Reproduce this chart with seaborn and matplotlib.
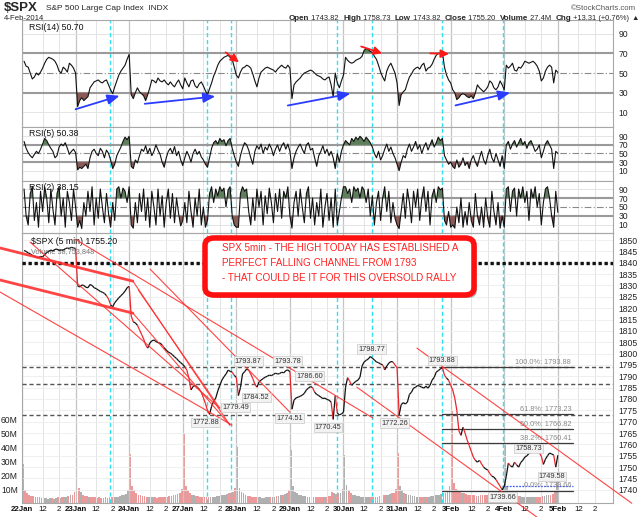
import numpy as np
import pandas as pd
import matplotlib
matplotlib.use("Agg")
import matplotlib.pyplot as plt
import seaborn as sns
from matplotlib.collections import LineCollection
from matplotlib.patches import FancyBboxPatch

sns.set_theme(style="white")
plt.rcParams['font.family'] = ['Liberation Sans', 'DejaVu Sans']

# ---- data (15-minute samples, 26 per session) ----
day_labels = ["22Jan", "23Jan", "24Jan", "27Jan", "28Jan", "29Jan",
              "30Jan", "31Jan", "3Feb", "4Feb", "5Feb"]

close_22jan = [1845.4, 1845.0, 1844.3, 1844.0, 1843.2, 1843.0, 1842.4, 1842.2, 1842.8, 1842.6, 1843.5, 1844.5, 1845.0,
               1845.6, 1845.2, 1845.9, 1846.0, 1845.4, 1845.7, 1845.5, 1846.2, 1846.5, 1846.3, 1846.8, 1846.5, 1846.3]
close_23jan = [1829.8, 1829.3, 1830.2, 1830.0, 1829.2, 1829.0, 1830.4, 1830.0, 1829.0, 1828.6, 1828.0, 1827.4, 1827.0,
               1826.5, 1825.5, 1824.0, 1821.5, 1820.6, 1822.4, 1823.5, 1824.6, 1825.5, 1826.4, 1827.5, 1829.0, 1829.6]
close_24jan = [1816.5, 1814.0, 1813.5, 1812.5, 1810.5, 1808.5, 1806.5, 1803.8, 1802.4, 1804.6, 1805.6, 1806.0, 1805.3,
               1804.8, 1804.6, 1803.8, 1802.6, 1801.5, 1800.7, 1800.2, 1799.5, 1798.6, 1797.8, 1796.8, 1796.0, 1795.2]
close_27jan = [1794.2, 1792.7, 1789.0, 1784.0, 1785.5, 1786.0, 1785.2, 1784.4, 1783.0, 1780.6, 1778.0, 1775.0, 1773.2,
               1776.8, 1779.0, 1780.4, 1783.5, 1786.0, 1788.3, 1789.8, 1791.0, 1792.7, 1792.2, 1791.8, 1790.4, 1789.5]
close_28jan = [1781.5, 1785.0, 1791.0, 1792.0, 1793.2, 1792.7, 1791.0, 1789.0, 1786.5, 1785.2, 1787.5, 1788.3, 1789.0,
               1789.6, 1790.0, 1790.5, 1790.3, 1790.8, 1791.4, 1791.0, 1791.2, 1791.8, 1791.5, 1792.5, 1792.8, 1792.0]
close_29jan = [1775.5, 1779.5, 1780.5, 1780.8, 1781.2, 1781.7, 1782.5, 1784.0, 1784.8, 1785.5, 1785.0, 1783.0, 1782.0,
               1781.5, 1780.8, 1780.2, 1780.4, 1779.8, 1779.5, 1778.6, 1771.0, 1781.5, 1773.8, 1773.0, 1773.4, 1774.2]
close_30jan = [1785.2, 1789.4, 1787.8, 1786.0, 1787.0, 1787.8, 1788.3, 1789.6, 1794.5, 1796.3, 1797.0, 1797.6, 1798.7,
               1798.0, 1797.2, 1796.3, 1796.0, 1795.4, 1795.0, 1792.8, 1794.5, 1795.8, 1796.5, 1796.3, 1795.0, 1793.8]
close_31jan = [1773.0, 1777.5, 1778.4, 1777.8, 1778.6, 1782.0, 1783.0, 1784.8, 1785.2, 1786.0, 1785.6, 1785.2, 1784.8,
               1785.6, 1784.8, 1786.0, 1788.3, 1789.5, 1791.8, 1792.5, 1793.2, 1793.9, 1790.5, 1789.2, 1788.3, 1786.0]
close_03feb = [1784.0, 1780.4, 1775.0, 1766.0, 1764.0, 1767.6, 1765.0, 1762.0, 1759.5, 1757.0, 1754.4, 1753.0, 1752.2,
               1753.0, 1751.4, 1750.0, 1749.2, 1748.7, 1747.2, 1746.0, 1745.6, 1744.5, 1743.0, 1741.6, 1740.0, 1741.5]
close_04feb = [1746.0, 1751.8, 1750.6, 1750.0, 1752.2, 1751.0, 1750.0, 1752.0, 1753.0, 1754.4, 1755.0, 1756.0, 1756.5,
               1757.2, 1758.0, 1756.8, 1756.4, 1754.8, 1751.2, 1753.5, 1755.0, 1756.2, 1755.8, 1755.3, 1750.0, 1755.2]

volume_m = [28, 9, 7, 6, 5, 5, 4.5, 4, 4, 3.5, 3.5, 3.5, 3, 3.5, 3.5, 3, 3.5, 4, 3.5, 4, 4.5, 4.5, 5, 5.5, 6, 8,
            36, 11, 8, 6, 5, 5, 4.5, 4.5, 4, 4, 3.5, 4, 3.5, 3.5, 4, 3.5, 4, 4, 4.5, 4, 4.5, 5, 5.5, 6, 6.5, 9,
            35, 12, 9, 7, 6, 5.5, 5, 5, 4.5, 4.5, 4, 4, 4, 3.5, 4, 4, 4.5, 4, 4.5, 5, 5, 5.5, 6, 6.5, 7, 10,
            49, 12, 9, 7, 6, 5.5, 5, 5, 4.5, 4, 4, 4.5, 4, 4, 4.5, 4.5, 5, 5, 5.5, 5.5, 6, 6.5, 7, 7.5, 8, 11,
            40, 11, 8, 7, 6, 5, 5, 4.5, 4.5, 4, 4, 4, 3.5, 3.5, 4, 4, 4, 4.5, 4.5, 5, 5, 5.5, 6, 6.5, 7, 9,
            38, 12, 8, 7, 6, 5.5, 5, 5, 4.5, 4.5, 4, 4, 4, 4, 4.5, 4, 4.5, 4.5, 5, 5, 8, 7, 6.5, 7, 7.5, 10,
            34, 13, 9, 7, 6, 5.5, 5, 5, 4.5, 4.5, 4, 4, 4, 4, 4.5, 4.5, 4.5, 5, 5, 5.5, 5.5, 6, 6.5, 7, 7.5, 10,
            36, 12, 9, 7.5, 6.5, 6, 5.5, 5, 5, 4.5, 4.5, 4.5, 4, 4, 4.5, 4.5, 5, 5, 5.5, 6, 6, 6.5, 7, 7.5, 8, 12,
            66, 14, 10, 9, 8, 7, 7, 6.5, 6, 6, 5.5, 5.5, 5, 5, 5.5, 5.5, 5.5, 6, 6, 6.5, 7, 7, 7.5, 8, 9, 12,
            43, 12, 9, 7, 6, 5.5, 5, 5, 4.5, 4.5, 4, 4, 4, 4, 4.5, 4, 4.5, 4.5, 5, 5, 5.5, 5.5, 6, 6.5, 8, 15]

rsi14 = [62, 57, 56, 50, 44, 46, 50, 48, 51, 55, 60, 64, 66, 65, 64, 62, 58, 52, 50, 56, 54, 51, 60, 58, 55, 50,
         16, 22, 25, 22, 24, 26, 35, 38, 41, 42, 43, 41, 40, 42, 43, 38, 33, 29, 36, 42, 48, 52, 55, 58, 64, 69,
         28, 24, 30, 35, 31, 29, 27, 22, 28, 35, 43, 42, 40, 45, 42, 41, 43, 40, 38, 41, 38, 36, 40, 43, 38, 34,
         45, 40, 36, 42, 43, 37, 35, 39, 41, 37, 32, 28, 34, 40, 47, 52, 58, 62, 64, 66, 67, 68, 66, 64, 56, 48,
         45, 51, 55, 56, 58, 57, 55, 49, 42, 36, 45, 51, 53, 55, 56, 55, 54, 53, 51, 54, 56, 58, 56, 55, 58, 55,
         24, 38, 41, 43, 45, 48, 50, 51, 52, 53, 52, 50, 48, 47, 46, 44, 43, 45, 46, 38, 26, 50, 40, 35, 42, 48,
         66, 63, 61, 60, 61, 63, 64, 65, 67, 73, 75, 74, 72, 71, 67, 64, 58, 51, 46, 42, 52, 57, 60, 55, 50, 40,
         17, 28, 31, 33, 40, 46, 49, 53, 55, 56, 54, 58, 60, 52, 55, 56, 59, 64, 68, 70, 70, 71, 56, 48, 43, 40,
         33, 30, 23, 25, 28, 29, 28, 26, 25, 27, 24, 30, 38, 35, 33, 31, 33, 36, 42, 40, 35, 33, 36, 42, 38, 33,
         58, 55, 57, 60, 53, 52, 56, 55, 58, 62, 61, 60, 61, 62, 60, 57, 52, 42, 45, 52, 56, 58, 56, 40, 53, 50.70]

rsi5 = [78, 62, 52, 45, 40, 48, 55, 50, 60, 72, 85, 80, 70, 62, 55, 40, 45, 65, 72, 68, 75, 62, 48, 55, 60, 52,
        12, 18, 15, 20, 25, 15, 40, 55, 60, 50, 45, 62, 55, 40, 58, 50, 35, 15, 25, 45, 55, 65, 78, 88, 82, 90,
        20, 15, 35, 28, 45, 60, 55, 68, 50, 62, 45, 55, 70, 58, 48, 30, 18, 40, 55, 62, 50, 66, 45, 55, 35, 22,
        40, 55, 45, 30, 50, 60, 48, 55, 42, 35, 25, 18, 40, 62, 75, 80, 72, 85, 78, 82, 68, 80, 85, 62, 45, 30,
        20, 45, 62, 75, 70, 58, 40, 25, 55, 68, 60, 72, 50, 65, 58, 72, 62, 45, 60, 70, 55, 68, 75, 60, 72, 55,
        15, 40, 55, 65, 72, 60, 50, 70, 75, 58, 62, 40, 20, 45, 55, 68, 50, 60, 45, 55, 40, 15, 50, 30, 55, 70,
        80, 75, 70, 85, 78, 88, 82, 90, 85, 78, 88, 82, 75, 65, 50, 40, 55, 35, 45, 60, 72, 55, 65, 50, 40, 25,
        10, 30, 45, 40, 60, 72, 55, 65, 78, 60, 70, 50, 65, 75, 58, 70, 82, 65, 75, 88, 80, 85, 45, 35, 25, 30,
        20, 15, 35, 18, 25, 40, 22, 30, 15, 35, 45, 30, 20, 40, 55, 35, 25, 45, 60, 40, 30, 50, 35, 20, 45, 15,
        70, 78, 60, 72, 80, 65, 75, 85, 70, 78, 62, 75, 80, 68, 55, 60, 70, 40, 55, 72, 80, 70, 60, 15, 55, 50.38]

rsi2 = [90, 30, 10, 80, 95, 20, 60, 5, 85, 40, 95, 70, 15, 90, 45, 10, 80, 95, 30, 70, 5, 85, 60, 20, 90, 50,
        5, 20, 2, 60, 30, 85, 40, 95, 10, 70, 25, 90, 50, 15, 80, 35, 5, 60, 20, 90, 95, 70, 92, 85, 60, 95,
        10, 3, 60, 15, 80, 40, 90, 20, 70, 5, 85, 50, 10, 90, 30, 75, 5, 60, 90, 25, 80, 15, 70, 35, 8, 20,
        60, 15, 85, 40, 5, 70, 30, 90, 10, 50, 5, 20, 80, 95, 60, 90, 75, 95, 85, 92, 50, 88, 95, 30, 10, 5,
        5, 80, 95, 85, 90, 40, 10, 70, 20, 90, 50, 85, 10, 75, 35, 92, 60, 15, 80, 40, 90, 25, 85, 70, 95, 30,
        3, 60, 85, 30, 90, 50, 15, 80, 95, 25, 70, 10, 60, 30, 90, 5, 50, 80, 20, 70, 5, 90, 10, 40, 70, 95,
        95, 80, 90, 60, 95, 85, 92, 70, 95, 88, 60, 90, 30, 75, 10, 60, 85, 20, 70, 95, 40, 85, 15, 60, 25, 10,
        2, 40, 80, 25, 90, 60, 15, 85, 50, 90, 20, 70, 95, 40, 85, 10, 75, 90, 60, 95, 88, 92, 20, 10, 40, 5,
        10, 3, 50, 15, 70, 5, 40, 10, 60, 20, 5, 80, 30, 10, 50, 5, 70, 25, 5, 85, 40, 10, 60, 3, 30, 5,
        90, 95, 40, 85, 92, 30, 90, 70, 95, 60, 85, 20, 90, 70, 95, 50, 80, 10, 60, 90, 95, 70, 30, 5, 85, 38.15]

# marked highs / lows (session position in days, price, label)
point_labels = [(4.22, 1796.7, "1793.87"), (4.96, 1796.7, "1793.78"), (5.37, 1790.1, "1786.60"),
                (4.37, 1780.8, "1784.52"), (3.99, 1776.4, "1779.49"), (3.43, 1769.8, "1772.88"),
                (5.00, 1771.6, "1774.51"), (5.71, 1767.6, "1770.45"), (6.53, 1802.0, "1798.77"),
                (6.96, 1769.4, "1772.26"), (7.84, 1797.1, "1793.88"), (8.97, 1736.8, "1739.66"),
                (9.89, 1746.0, "1749.58"), (9.45, 1758.2, "1758.73")]
support_levels = [1793.88, 1786.60, 1772.88]
fib_levels = [1793.88, 1773.23, 1766.82, 1760.41, 1739.66]
fib_names = ["100.0%", "61.8%", "50.0%", "38.2%", "0.0%"]
fib_span = (7.84, 10.28)
marker_days = [1.642, 3.451, 3.899, 5.877, 6.530, 7.836, 8.974]
# hand drawn trend lines: (day, price) -> (day, price), width
trend_lines = [((-0.41, 1846.5), (2.07, 1831.9), 2.0), ((-0.41, 1832.4), (2.07, 1817.8), 2.0),
               ((-0.41, 1827.1), (3.92, 1768.5), 0.8), ((0.15, 1849.1), (3.69, 1776.0), 0.8),
               ((0.99, 1850.4), (6.55, 1771.6), 0.8), ((2.39, 1837.2), (5.00, 1774.2), 0.8),
               ((2.07, 1831.9), (3.88, 1768.5), 0.8), ((2.07, 1817.8), (3.88, 1768.5), 0.8),
               ((2.17, 1828.0), (3.69, 1776.0), 0.8),
               ((6.25, 1785.2), (9.61, 1728.0), 0.8), ((7.37, 1802.4), (11.38, 1734.1), 0.8)]
blue_arrows = [((0.95, 12.4), (1.87, 27.7)), ((2.24, 18.5), (3.66, 26.6)),
               ((4.91, 16.5), (6.18, 29.7)), ((8.04, 16.5), (9.16, 30.7))]
red_arrows = [((3.80, 71.0), (4.05, 61.0)), ((6.33, 77.0), (6.72, 70.0)), ((7.62, 70.0), (7.97, 69.5))]

closes = (close_22jan + close_23jan + close_24jan + close_27jan + close_28jan + close_29jan +
          close_30jan + close_31jan + close_03feb + close_04feb)
n = len(closes)
idx = np.arange(n)
df = pd.DataFrame({"t": idx // 26 + (idx % 26 + 1) / 26, "close": closes, "volume": volume_m,
                   "rsi14": rsi14, "rsi5": rsi5, "rsi2": rsi2})
df["tv"] = idx // 26 + (idx % 26 + 0.5) / 26
df["down"] = df["close"].diff().fillna(0) < 0

W, H = 640, 517
fig = plt.figure(figsize=(W / 100, H / 100), dpi=100)
fig.patch.set_facecolor("white")


def box(top, bottom, left=22, right=613):
    return [left / W, 1 - bottom / H, (right - left) / W, (bottom - top) / H]


XMAX = 11.03
grid_c = "#e4e4e4"
day_c = "#c4c4c4"
cyan = "#33e0f0"


def frame(ax):
    ax.set_xlim(0, XMAX)
    for s in ax.spines.values():
        s.set_color("#a8a8a8")
        s.set_linewidth(0.8)
    for d in range(11):
        ax.axvline(d, color=day_c, lw=0.9, zorder=0)
        ax.axvline(d + 30 / 78, color=grid_c, lw=0.7, zorder=0)
        ax.axvline(d + 54 / 78, color=grid_c, lw=0.7, zorder=0)
    for m in marker_days:
        ax.axvline(m, color=cyan, lw=1.0, ls=(0, (3, 2)), zorder=1)
    ax.set_xticks([])
    ax.tick_params(axis="y", length=0, labelsize=6.2, pad=4, labelcolor="#222222")
    ax.yaxis.tick_right()


def rsi_panel(ax, col, lims, label):
    frame(ax)
    ax.set_ylim(*lims)
    ax.set_yticks([10, 30, 50, 70, 90])
    for v in (10, 90):
        ax.axhline(v, color=grid_c, lw=0.7, zorder=0)
    ax.axhline(70, color="#9a9a9a", lw=1.5, zorder=1)
    ax.axhline(30, color="#9a9a9a", lw=1.5, zorder=1)
    ax.axhline(50, color="#8a8a8a", lw=0.8, ls=(0, (6, 2, 1, 2)), zorder=1)
    y = df[col].to_numpy()
    ax.fill_between(df["t"], y, 30, where=y < 30, interpolate=True, color="#8a5a56", lw=0, zorder=2)
    ax.fill_between(df["t"], y, 70, where=y > 70, interpolate=True, color="#5f7f5c", lw=0, zorder=2)
    sns.lineplot(data=df, x="t", y=col, ax=ax, color="#111111", lw=0.8, estimator=None, zorder=3)
    ax.set_xlabel("")
    ax.set_ylabel("")
    ax.text(0.012, 0.97, label, transform=ax.transAxes, fontsize=6.3, va="top", ha="left", color="#111111")


ax1 = fig.add_axes(box(20, 127))
rsi_panel(ax1, "rsi14", (-4.8, 103.9), "RSI(14) 50.70")
for (a, b) in blue_arrows:
    ax1.annotate("", xy=b, xytext=a, arrowprops=dict(arrowstyle="-|>,head_width=0.25,head_length=0.6",
                                                     color="#2b3cff", lw=1.3), zorder=5)
for (a, b) in red_arrows:
    ax1.annotate("", xy=b, xytext=a, arrowprops=dict(arrowstyle="-|>,head_width=0.2,head_length=0.4",
                                                     color="#ff1a1a", lw=1.3, shrinkA=0, shrinkB=0), zorder=5)

ax2 = fig.add_axes(box(127, 181))
rsi_panel(ax2, "rsi5", (-14, 111.6), "RSI(5) 50.38")
ax3 = fig.add_axes(box(181, 233))
rsi_panel(ax3, "rsi2", (-7.8, 107.8), "RSI(2) 38.15")

# ---- price + volume panel ----
axp = fig.add_axes(box(233, 503))
axv = axp.twinx()
axp.set_zorder(axv.get_zorder() + 1)
axp.patch.set_visible(False)
frame(axp)
axv.set_xlim(0, XMAX)
axv.set_ylim(0, 193)
vcol = np.where(df["down"], "#ea9a9a", "#b0b0b0")
axv.bar(df["tv"], df["volume"], width=0.85 / 26, color=vcol, lw=0)
axv.yaxis.tick_left()
axv.set_yticks([10, 20, 30, 40, 50, 60])
axv.set_yticklabels([f"{v}M" for v in [10, 20, 30, 40, 50, 60]])
axv.tick_params(axis="y", length=0, labelsize=6.2, pad=3, labelcolor="#222222")
for s in axv.spines.values():
    s.set_visible(False)

axp.set_ylim(1734.2, 1853.1)
axp.set_yticks(np.arange(1740, 1851, 5))
for v in np.arange(1740, 1851, 5):
    axp.axhline(v, color="#ececec", lw=0.6, zorder=0)
axp.axhline(1840, color="#111111", lw=2.4, ls=(0, (1, 0.8)), zorder=3)
for lv in support_levels:
    axp.axhline(lv, color="#555555", lw=1.0, ls=(0, (3, 2)), zorder=3)
for lv, nm in zip(fib_levels, fib_names):
    axp.plot(fib_span, [lv, lv], color="#3a3a3a", lw=0.9, zorder=3)
    axp.text(fib_span[1] - 0.03, lv + 0.6, f"{nm}: {lv:.2f}", fontsize=5.3, color="#8a8a8a",
             ha="right", va="bottom", zorder=4)
axp.plot([8.97, fib_span[1]], [1741.6, 1741.6], color="#3d5cff", lw=0.9, ls=(0, (1.5, 1)), zorder=3)

# close line: black, with red where the price steps down sharply
pts = np.column_stack([df["t"], df["close"]])
segs = np.stack([pts[:-1], pts[1:]], axis=1)
seg_c = np.where(np.diff(df["close"]) < -1.2, "#e8252b", "#111111")
axp.add_collection(LineCollection(segs, colors=seg_c, lw=0.9, zorder=4))

for (a, b, w) in trend_lines:
    axp.plot([a[0], b[0]], [a[1], b[1]], color="#ff3030", lw=w, zorder=5, clip_on=False, alpha=0.9)

for (tx, py, s) in point_labels:
    axp.text(tx, py, s, fontsize=5.3, ha="center", va="center", color="#333333", zorder=6,
             bbox=dict(boxstyle="square,pad=0.15", fc="#f2f2f2", ec="#c8c8c8", lw=0.5))

# x labels under the price panel
for d, lab in enumerate(day_labels):
    for off, txt, wt in ((0, lab, "bold"), (30 / 78, "12", "normal"), (54 / 78, "2", "normal")):
        x = d + off
        if x > XMAX:
            continue
        axp.text(x, -0.012, txt, transform=axp.get_xaxis_transform(), fontsize=5.7, fontweight=wt,
                 ha="center", va="top", color="#111111")
axp.set_xticks([])

axp.text(0.016, 0.985, "$SPX (5 min) 1755.20", transform=axp.transAxes, fontsize=6.3, va="top", color="#111111")
axp.text(0.016, 0.945, "Volume 38,753,848", transform=axp.transAxes, fontsize=5.3, va="top", color="#777777")

# ---- callout box ----
fig.patches.append(FancyBboxPatch((208 / W, 1 - 298 / H), 269 / W, 57 / H,
                                  boxstyle="round,pad=0,rounding_size=0.014", transform=fig.transFigure,
                                  fc="#8a8a8a", ec="none", zorder=9, alpha=0.6))
fig.patches.append(FancyBboxPatch((205 / W, 1 - 295 / H), 269 / W, 57 / H,
                                  boxstyle="round,pad=0,rounding_size=0.014", transform=fig.transFigure,
                                  fc="white", ec="#ff1010", lw=4, zorder=10))
callout = ("SPX 5min - THE HIGH TODAY HAS ESTABLISHED A\n"
           "PERFECT FALLING CHANNEL FROM 1793\n"
           "- THAT COULD BE IT FOR THIS OVERSOLD RALLY")
fig.text(222 / W, 1 - 243 / H, callout, fontsize=7.1, color="#ff2020", va="top", ha="left",
         linespacing=1.62, zorder=11)

# ---- header ----
fig.text(4 / W, 1 - 8 / H, "$SPX", fontsize=9.5, fontweight="bold", va="center")
fig.text(46 / W, 1 - 8 / H, "S&P 500 Large Cap Index  INDX", fontsize=6.0, va="center")
fig.text(4 / W, 1 - 19 / H, "4-Feb-2014", fontsize=5.6, va="center")
fig.text(636 / W, 1 - 8 / H, "©StockCharts.com", fontsize=5.6, va="center", ha="right", color="#555555")
pieces = [("Open", True), (" 1743.82  ", False), ("High", True), (" 1758.73  ", False), ("Low", True),
          (" 1743.82  ", False), ("Close", True), (" 1755.20  ", False), ("Volume", True), (" 27.4M  ", False),
          ("Chg", True), (" +13.31 (+0.76%) ", False), ("▲", False)]
head_texts = [fig.text(0, 0, txt, fontsize=5.8 if bold else 5.4, fontweight="bold" if bold else "normal",
                       va="center", ha="left") for txt, bold in pieces]
fig.canvas.draw()
renderer = fig.canvas.get_renderer()
xcur = 289
for t in head_texts:
    t.set_position((xcur / W, 1 - 19 / H))
    xcur += t.get_window_extent(renderer).width

fig.savefig("out.png", dpi=100, facecolor="white")
